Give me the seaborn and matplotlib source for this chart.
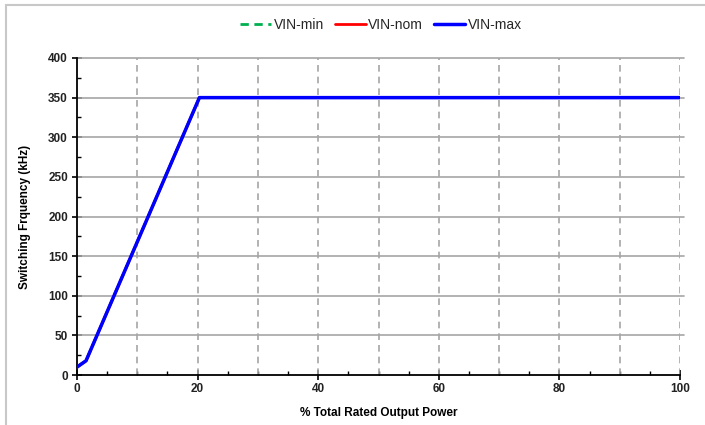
import matplotlib
matplotlib.use("Agg")
import matplotlib.pyplot as plt
import seaborn as sns
import pandas as pd
import numpy as np
from matplotlib.patches import Rectangle
from matplotlib.ticker import MultipleLocator

# Data
power_pct = [0, 1.5, 20.3, 30, 40, 50, 60, 70, 80, 90, 100]
vin_min = [10, 18, 350, 350, 350, 350, 350, 350, 350, 350, 350]
vin_nom = [10, 18, 350, 350, 350, 350, 350, 350, 350, 350, 350]
vin_max = [10, 18, 350, 350, 350, 350, 350, 350, 350, 350, 350]
series_names = ["VIN-min", "VIN-nom", "VIN-max"]

df = pd.DataFrame({
    "x": power_pct * 3,
    "y": vin_min + vin_nom + vin_max,
    "series": sum([[n] * len(power_pct) for n in series_names], []),
})

sns.set_theme(style="white")
plt.rcParams['font.family'] = ['Liberation Sans', 'DejaVu Sans']

fig = plt.figure(figsize=(7.05, 4.25), dpi=100)
ax = fig.add_axes([77/705, 50/425, (680-77)/705, (375-58)/425])

palette = {"VIN-min": "#00b050", "VIN-nom": "#ff0000", "VIN-max": "#0000ff"}
styles = {"VIN-min": (0, (3, 2)), "VIN-nom": "-", "VIN-max": "-"}
widths = {"VIN-min": 2.0, "VIN-nom": 2.0, "VIN-max": 2.5}
for name in series_names:
    sub = df[df.series == name]
    sns.lineplot(data=sub, x="x", y="y", ax=ax, color=palette[name],
                 linestyle=styles[name], linewidth=widths[name], label=name,
                 zorder=3)

ax.set_xlim(0, 100)
ax.set_ylim(0, 400)
ax.xaxis.set_major_locator(MultipleLocator(20))
ax.xaxis.set_minor_locator(MultipleLocator(5))
ax.yaxis.set_major_locator(MultipleLocator(50))
ax.yaxis.set_minor_locator(MultipleLocator(25))

# gridlines
for yv in range(50, 401, 50):
    ax.axhline(yv, color="#a6a6a6", linewidth=1.2, zorder=1, xmax=1.006, clip_on=False)
for xv in range(10, 101, 10):
    ax.axvline(xv, color="#a6a6a6", linewidth=1.2, linestyle=(0, (4, 3)), zorder=1)

for s in ["top", "right"]:
    ax.spines[s].set_visible(False)
for s in ["left", "bottom"]:
    ax.spines[s].set_color("black")
    ax.spines[s].set_linewidth(1.3)

ax.tick_params(axis="both", which="major", direction="inout", length=7, width=1.2,
               colors="black", labelsize=8.5, left=True, bottom=True)
ax.tick_params(axis="both", which="minor", direction="in", length=3, width=1.0,
               colors="black", left=True, bottom=True)
ax.tick_params(axis="x", which="major", pad=2)
ax.tick_params(axis="y", which="major", pad=3)
for lbl in ax.get_xticklabels() + ax.get_yticklabels():
    lbl.set_fontweight("bold")
    lbl.set_color("#222222")

ax.set_xlabel("% Total Rated Output Power", fontsize=8.5, fontweight="bold", color="black", labelpad=9)
ax.set_ylabel("Switching Frquency (kHz)", fontsize=8.5, fontweight="bold", color="black", labelpad=12)

leg = ax.legend(loc="center", bbox_to_anchor=(381/705, 1 - 25/425), bbox_transform=fig.transFigure,
                ncol=3, frameon=False, fontsize=10, handlelength=2.2, columnspacing=0.8,
                handletextpad=0.2, borderaxespad=0)

# figure border
fig.patches.append(Rectangle((6/705, -0.05), 1.2, 1 - 5/425 + 0.05, transform=fig.transFigure,
                             fill=False, edgecolor="#c8c8c8", linewidth=1.5))

fig.savefig("out.png", dpi=100)
